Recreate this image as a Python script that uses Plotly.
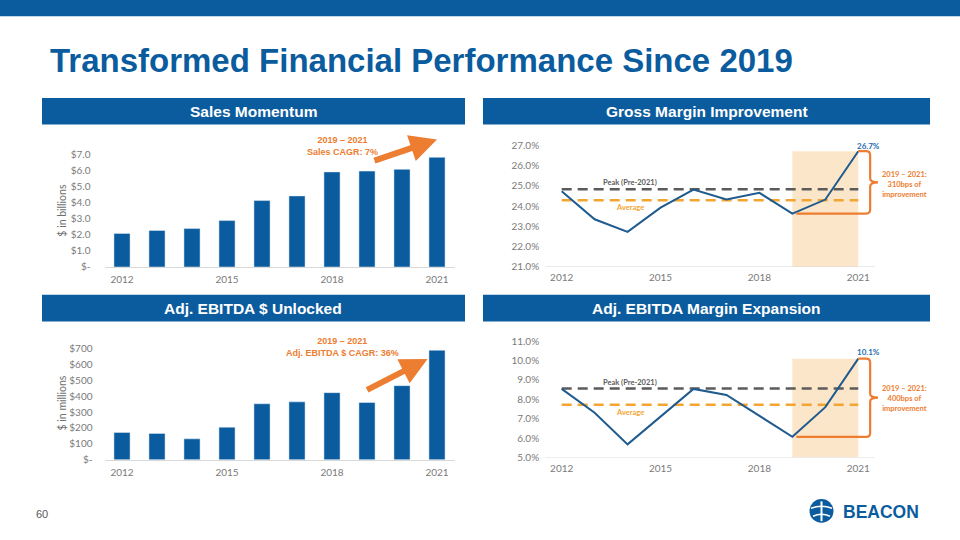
import plotly.graph_objects as go

# ---------------- data ----------------
years = [2012, 2013, 2014, 2015, 2016, 2017, 2018, 2019, 2020, 2021]
tick_years = [2012, 2015, 2018, 2021]

sales_bn = [2.10, 2.28, 2.40, 2.90, 4.15, 4.44, 5.94, 5.99, 6.10, 6.85]
ebitda_mm = [172, 166, 132, 205, 352, 364, 422, 360, 466, 688]
gross_margin_pct = [24.73, 23.35, 22.73, 23.92, 24.81, 24.32, 24.65, 23.63, 24.32, 26.70]
ebitda_margin_pct = [8.54, 7.31, 5.68, 7.09, 8.54, 8.23, 7.17, 6.07, 7.60, 10.10]

gross_margin_peak = 24.83
gross_margin_avg = 24.28
ebitda_margin_peak = 8.56
ebitda_margin_avg = 7.72

sales_ticks = [0, 1, 2, 3, 4, 5, 6, 7]
sales_ticktext = ["$-", "$1.0", "$2.0", "$3.0", "$4.0", "$5.0", "$6.0", "$7.0"]
ebitda_ticks = [0, 100, 200, 300, 400, 500, 600, 700]
ebitda_ticktext = ["$-", "$100", "$200", "$300", "$400", "$500", "$600", "$700"]
gm_ticks = [21, 22, 23, 24, 25, 26, 27]
gm_ticktext = ["21.0%", "22.0%", "23.0%", "24.0%", "25.0%", "26.0%", "27.0%"]
em_ticks = [5, 6, 7, 8, 9, 10, 11]
em_ticktext = ["5.0%", "6.0%", "7.0%", "8.0%", "9.0%", "10.0%", "11.0%"]

# ---------------- styles ----------------
W, H = 960, 540
BLUE = "#0b5c9e"
BAR = "#0a5c9f"
LINE = "#1f5b8e"
VALUE = "#1f6cb0"
ORANGE = "#ED7D31"
GOLD = "#F2A531"
PEAK = "#5b5b5b"
SHADE = "#FCE6C9"
AXIS = "#d9d9d9"
TICK = "#7a7a7a"
TF = dict(family="Lato, Open Sans, sans-serif", size=10, color=TICK)


def px(x):
    return x / W


def py(y):
    return 1 - y / H


fig = go.Figure()

# bars
fig.add_trace(go.Bar(x=years, y=sales_bn, marker_color=BAR, width=0.46,
                     xaxis="x", yaxis="y", hoverinfo="skip"))
fig.add_trace(go.Bar(x=years, y=ebitda_mm, marker_color=BAR, width=0.46,
                     xaxis="x3", yaxis="y3", hoverinfo="skip"))

# reference lines + margin lines
for xa, ya, peak, avg, vals in [("x2", "y2", gross_margin_peak, gross_margin_avg, gross_margin_pct),
                                ("x4", "y4", ebitda_margin_peak, ebitda_margin_avg, ebitda_margin_pct)]:
    fig.add_trace(go.Scatter(x=[years[0], years[-1]], y=[avg, avg], mode="lines",
                             line=dict(color=GOLD, width=2.5, dash="10px,6px"),
                             xaxis=xa, yaxis=ya, hoverinfo="skip"))
    fig.add_trace(go.Scatter(x=[years[0], years[-1]], y=[peak, peak], mode="lines",
                             line=dict(color=PEAK, width=2.5, dash="10px,6px"),
                             xaxis=xa, yaxis=ya, hoverinfo="skip"))
    fig.add_trace(go.Scatter(x=years, y=vals, mode="lines",
                             line=dict(color=LINE, width=2),
                             xaxis=xa, yaxis=ya, hoverinfo="skip"))

shapes = []
annotations = []

# page decorations (paper)
shapes.append(dict(type="rect", xref="paper", yref="paper", x0=0, x1=1, y0=py(16.5), y1=1,
                   fillcolor=BLUE, line=dict(width=0), layer="below"))
headers = [("Sales Momentum", 42, 465, 99, 126),
           ("Gross Margin Improvement", 483, 930, 99, 126),
           ("Adj. EBITDA $ Unlocked", 42, 465, 298, 325),
           ("Adj. EBITDA Margin Expansion", 483, 930, 298, 325)]
for txt, x0, x1, y0, y1 in headers:
    shapes.append(dict(type="rect", xref="paper", yref="paper", x0=px(x0), x1=px(x1),
                       y0=py(y1), y1=py(y0), fillcolor=BLUE, line=dict(width=0), layer="below"))
    annotations.append(dict(text="<b>%s</b>" % txt, xref="paper", yref="paper",
                            x=px((x0 + x1) / 2), y=py((y0 + y1) / 2 + 0.5),
                            showarrow=False, xanchor="center", yanchor="middle",
                            font=dict(family="Liberation Sans, Arial", size=15.5, color="white")))

annotations.append(dict(text="<b>Transformed Financial Performance Since 2019</b>",
                        xref="paper", yref="paper", x=px(48), y=py(61), xanchor="left",
                        yanchor="middle", showarrow=False,
                        font=dict(family="Liberation Sans, Arial", size=33, color=BLUE)))

# y axis titles for bar charts
annotations.append(dict(text="$ in billions", xref="paper", yref="paper", x=px(62), y=py(213),
                        textangle=-90, showarrow=False, xanchor="center", yanchor="middle",
                        font=dict(family="Lato, sans-serif", size=10.5, color="#6f6f6f")))
annotations.append(dict(text="$ in millions", xref="paper", yref="paper", x=px(62), y=py(408),
                        textangle=-90, showarrow=False, xanchor="center", yanchor="middle",
                        font=dict(family="Lato, sans-serif", size=10.5, color="#6f6f6f")))

# CAGR arrows and labels
CF = dict(family="Liberation Sans, Arial", size=9, color=ORANGE)
annotations.append(dict(x=2021.0, y=7.97, ax=2019.17, ay=6.61, xref="x", yref="y",
                        axref="x", ayref="y", showarrow=True, arrowhead=2, arrowsize=0.9,
                        arrowwidth=6, arrowcolor=ORANGE, text=""))
annotations.append(dict(x=2018.31, y=7.57, xref="x", yref="y", showarrow=False,
                        text="<b>2019 – 2021<br>Sales CAGR: 7%</b>", font=CF))
annotations.append(dict(x=2020.73, y=634, ax=2018.96, ay=435, xref="x3", yref="y3",
                        axref="x3", ayref="y3", showarrow=True, arrowhead=2, arrowsize=0.9,
                        arrowwidth=6, arrowcolor=ORANGE, text=""))
annotations.append(dict(x=2018.3, y=708, xref="x3", yref="y3", showarrow=False,
                        text="<b>2019 – 2021<br>Adj. EBITDA $ CAGR: 36%</b>", font=CF))

# margin charts decorations
SF = dict(family="Lato, sans-serif", size=7.5)
for xa, ya, vals, ymin, lbl_peak_y, lbl_avg_y, val_lbl_y, txt_y, bps, rx, ry in [
        ("x2", "y2", gross_margin_pct, 21, 25.14, 23.92, 26.98, 25.05, "310bps", 0.12, 0.2),
        ("x4", "y4", ebitda_margin_pct, 5, 8.87, 7.33, 10.44, 8.06, "400bps", 0.12, 0.2)]:
    top = vals[-1]
    bot = vals[-3]
    shapes.append(dict(type="rect", xref=xa, yref=ya, x0=years[-3], x1=years[-1], y0=ymin, y1=top,
                       fillcolor=SHADE, line=dict(width=0), layer="below"))
    shapes.append(dict(type="line", xref=xa, yref=ya, x0=2011.5, x1=2021.5, y0=ymin, y1=ymin,
                       line=dict(color=AXIS, width=1), layer="below"))
    xb = years[-1] + 0.36
    xn = years[-1] + 0.6
    mid = (top + bot) / 2
    path = (f"M {years[-1]},{top} L {xb - rx},{top} Q {xb},{top} {xb},{top - ry} "
            f"L {xb},{mid + ry} Q {xb},{mid} {xn},{mid} Q {xb},{mid} {xb},{mid - ry} "
            f"L {xb},{bot + ry} Q {xb},{bot} {xb - rx},{bot} L {years[-3] + 0.12},{bot}")
    shapes.append(dict(type="path", xref=xa, yref=ya, path=path,
                       line=dict(color=ORANGE, width=2.2)))
    annotations.append(dict(x=2014.07, y=lbl_peak_y, xref=xa, yref=ya, showarrow=False,
                            text="<b>Peak (Pre-2021)</b>", font=dict(SF, color=PEAK)))
    annotations.append(dict(x=2014.07, y=lbl_avg_y, xref=xa, yref=ya, showarrow=False,
                            text="<b>Average</b>", font=dict(SF, color=GOLD)))
    annotations.append(dict(x=years[-1] + 0.3, y=val_lbl_y, xref=xa, yref=ya, showarrow=False,
                            text="<b>%.1f%%</b>" % vals[-1], font=dict(SF, color=VALUE, size=8)))
    annotations.append(dict(x=px(904), y=txt_y, xref="paper", yref=ya, showarrow=False,
                            xanchor="center", yanchor="middle",
                            text="<b>2019 – 2021:<br>%s of<br>improvement</b>" % bps,
                            font=dict(SF, color=ORANGE, size=7.5)))

# page number and logo
annotations.append(dict(text="60", xref="paper", yref="paper", x=px(42), y=py(520),
                        xanchor="center", yanchor="middle", showarrow=False,
                        font=dict(family="Liberation Sans, Arial", size=11, color="#595959")))
shapes.append(dict(type="circle", xref="paper", yref="paper", x0=px(809.5), x1=px(833.5),
                   y0=py(528.7), y1=py(504.7), fillcolor=BLUE, line=dict(width=0)))
shapes.append(dict(type="line", xref="paper", yref="paper", x0=px(821.5), x1=px(821.5),
                   y0=py(527), y1=py(507), line=dict(color="white", width=2)))
shapes.append(dict(type="path", xref="paper", yref="paper",
                   path=f"M {px(811)},{py(514)} Q {px(821.5)},{py(510)} {px(832)},{py(514)}",
                   line=dict(color="white", width=1.5)))
shapes.append(dict(type="path", xref="paper", yref="paper",
                   path=f"M {px(813)},{py(522)} Q {px(821.5)},{py(518)} {px(830)},{py(522)}",
                   line=dict(color="white", width=1.5)))
annotations.append(dict(text="<b>BEACON</b>", xref="paper", yref="paper", x=px(841), y=py(518),
                        xanchor="left", yanchor="middle", showarrow=False,
                        font=dict(family="Liberation Sans, Arial", size=17.5, color=BLUE)))

common_x = dict(showgrid=False, zeroline=False, ticks="", tickfont=TF, tickvals=tick_years,
                fixedrange=True)
common_y = dict(showgrid=False, zeroline=False, ticks="", tickfont=TF, fixedrange=True)

fig.update_layout(
    width=W, height=H, margin=dict(l=0, r=0, t=0, b=0),
    paper_bgcolor="white", plot_bgcolor="rgba(0,0,0,0)", showlegend=False,
    xaxis=dict(common_x, domain=[px(104.5), px(454.5)], range=[2011.5, 2021.5], anchor="y",
               showline=True, linecolor=AXIS, linewidth=1, ticklabelstandoff=3),
    yaxis=dict(common_y, domain=[py(270), py(140.5)], range=[0, 8], anchor="x",
               tickvals=sales_ticks, ticktext=sales_ticktext, ticklabelstandoff=13),
    xaxis2=dict(common_x, domain=[px(545.2), px(883.0)], range=[2011.5, 2021.75], anchor="y2",
                showline=False, ticklabelstandoff=3),
    yaxis2=dict(common_y, domain=[py(270), py(134.4)], range=[21, 27.6], anchor="x2",
                tickvals=gm_ticks, ticktext=gm_ticktext, ticklabelstandoff=5),
    xaxis3=dict(common_x, domain=[px(104.5), px(454.5)], range=[2011.5, 2021.5], anchor="y3",
                showline=True, linecolor=AXIS, linewidth=1, ticklabelstandoff=3),
    yaxis3=dict(common_y, domain=[py(465), py(339.4)], range=[0, 780], anchor="x3",
                tickvals=ebitda_ticks, ticktext=ebitda_ticktext, ticklabelstandoff=11),
    xaxis4=dict(common_x, domain=[px(545.2), px(883.0)], range=[2011.5, 2021.75], anchor="y4",
                showline=False, ticklabelstandoff=3),
    yaxis4=dict(common_y, domain=[py(462.7), py(335.2)], range=[5, 11.5], anchor="x4",
                tickvals=em_ticks, ticktext=em_ticktext, ticklabelstandoff=5),
    shapes=shapes, annotations=annotations,
)

fig.write_html(
    "out.html", config={"displayModeBar": False, "staticPlot": True},
    post_script=("document.documentElement.style.margin='0';"
                 "document.body.style.margin='0';"))
